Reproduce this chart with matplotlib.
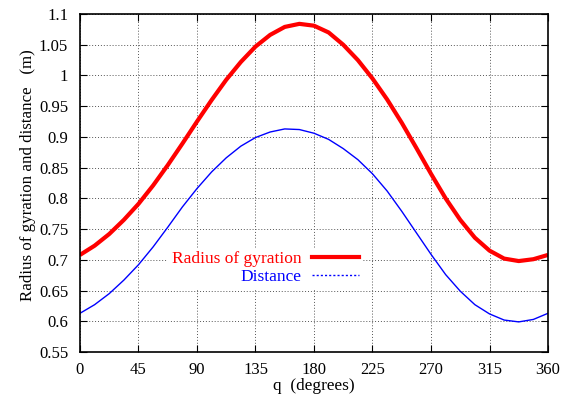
import matplotlib
matplotlib.use("Agg")
import matplotlib.pyplot as plt
from matplotlib.lines import Line2D

# Angle q (degrees)
q_deg = [0, 11.25, 22.5, 33.75, 45, 56.25, 67.5, 78.75, 90, 101.25, 112.5, 123.75,
         135, 146.25, 157.5, 168.75, 180, 191.25, 202.5, 213.75, 225, 236.25, 247.5,
         258.75, 270, 281.25, 292.5, 303.75, 315, 326.25, 337.5, 348.75, 360]

# Radius of gyration (m)
radius_gyration = [0.708, 0.723, 0.742, 0.765, 0.791, 0.821, 0.854, 0.889, 0.925, 0.960,
                   0.993, 1.022, 1.047, 1.066, 1.079, 1.084, 1.081, 1.070, 1.050, 1.025,
                   0.995, 0.961, 0.923, 0.882, 0.840, 0.800, 0.765, 0.736, 0.715, 0.702,
                   0.698, 0.701, 0.708]

# Distance (m)
distance = [0.613, 0.627, 0.645, 0.667, 0.692, 0.721, 0.753, 0.786, 0.816, 0.843,
            0.866, 0.885, 0.899, 0.908, 0.913, 0.912, 0.906, 0.896, 0.881, 0.863,
            0.840, 0.812, 0.779, 0.744, 0.709, 0.676, 0.649, 0.627, 0.612, 0.602,
            0.599, 0.603, 0.613]

x_ticks = [0, 45, 90, 135, 180, 225, 270, 315, 360]
y_ticks = [0.55, 0.6, 0.65, 0.7, 0.75, 0.8, 0.85, 0.9, 0.95, 1.0, 1.05, 1.1]
y_tick_labels = ["0.55", "0.6", "0.65", "0.7", "0.75", "0.8", "0.85", "0.9",
                 "0.95", "1", "1.05", "1.1"]

plt.rcParams["font.family"] = ["Liberation Serif", "DejaVu Serif"]
plt.rcParams["font.size"] = 12

fig = plt.figure(figsize=(5.68, 3.96), dpi=100)
ax = fig.add_axes([0.1408, 0.1111, 0.8240, 0.8535])

ax.plot(q_deg, radius_gyration, color="#ff0000", lw=3.0,
        solid_joinstyle="round", solid_capstyle="butt")
ax.plot(q_deg, distance, color="#0000ff", lw=1.0, solid_joinstyle="round")

ax.set_xlim(0, 360)
ax.set_ylim(0.55, 1.1)
ax.set_xticks(x_ticks)
ax.set_xticklabels([str(t) for t in x_ticks])
ax.set_yticks(y_ticks)
ax.set_yticklabels(y_tick_labels)

ax.tick_params(axis="both", direction="in", top=True, right=True, length=5,
               width=0.8, labelsize=12)
ax.tick_params(axis="y", pad=8.5)
ax.tick_params(axis="x", pad=7)
ax.set_axisbelow(True)
ax.grid(True, linestyle=(0, (1, 2)), color="#555555", lw=0.7)
for sp in ax.spines.values():
    sp.set_linewidth(1.2)

ax.set_xlabel("q  (degrees)", fontsize=12.4, labelpad=0)
ax.set_ylabel("Radius of gyration and distance   (m)", fontsize=12.2)
ax.yaxis.set_label_coords(-0.094, 0.524)

handles = [
    Line2D([], [], color="#ff0000", lw=3.0),
    Line2D([], [], color="#0000ff", lw=1.0, linestyle=(0, (1.5, 1.5))),
]
leg = ax.legend(handles, ["Radius of gyration", "Distance"],
                loc="upper right", bbox_to_anchor=(0.604, 0.309),
                markerfirst=False, frameon=True, fancybox=False,
                edgecolor="none", facecolor="white", framealpha=1.0,
                handlelength=2.7, handletextpad=0.63, labelspacing=0.1,
                borderpad=0.2, borderaxespad=0, fontsize=12.5)
for txt, col in zip(leg.get_texts(), ["#ff0000", "#0000ff"]):
    txt.set_color(col)
    txt.set_ha("right")

fig.savefig("out.png", dpi=100)
